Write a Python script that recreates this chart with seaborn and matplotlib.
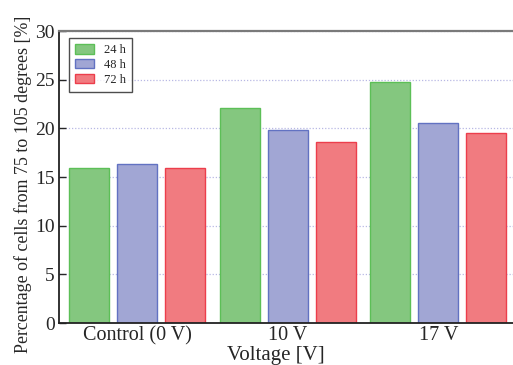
import matplotlib
matplotlib.use("Agg")
import matplotlib.pyplot as plt
from matplotlib.patches import Patch
import seaborn as sns
import pandas as pd

# values
voltages = ["Control (0 V)", "10 V", "17 V"]
durations = ["24 h", "48 h", "72 h"]
pct_24h = [15.9, 22.1, 24.8]
pct_48h = [16.3, 19.8, 20.5]
pct_72h = [15.9, 18.6, 19.5]

fills = ["#84c77f", "#a1a6d4", "#f17b80"]
edges = ["#5cbf57", "#6272c2", "#ec3e4c"]

df = pd.DataFrame({
    "voltage": voltages * 3,
    "duration": [d for d in durations for _ in voltages],
    "pct": pct_24h + pct_48h + pct_72h,
})

sns.set_style("white")
plt.rcParams["font.family"] = ["Liberation Serif", "DejaVu Serif"]

fig = plt.figure(figsize=(5.13, 3.65), dpi=100)
ax = fig.add_axes([59 / 513, 42 / 365, 457.5 / 513, 292 / 365])

sns.barplot(data=df, x="voltage", y="pct", hue="duration", order=voltages,
            hue_order=durations, palette=fills, width=0.957, gap=0.166,
            saturation=1, legend=False, ax=ax)

for cont, ec in zip(ax.containers, edges):
    for bar in cont:
        bar.set_edgecolor(ec)
        bar.set_linewidth(1.0)

ax.set_ylim(0, 30)
ax.set_xlim(-0.52, 2.52)
ax.set_yticks(range(0, 31, 5))
ax.set_xticks([-0.5, 0.5, 1.5, 2.5], minor=True)
ax.tick_params(axis="x", which="major", length=0, labelsize=14.5, pad=2)
ax.tick_params(axis="x", which="minor", direction="in", length=5, width=1, color="#333333")
ax.tick_params(axis="y", direction="in", length=5, width=1, labelsize=14, pad=3, left=True)

ax.yaxis.grid(True, linestyle=(0, (1, 1.5)), color="#b8b8e4", linewidth=0.9)
ax.set_axisbelow(True)

for s in ["left", "bottom"]:
    ax.spines[s].set_color("#222222")
    ax.spines[s].set_linewidth(1.3)
ax.spines["top"].set_color("#7a7a7a")
ax.spines["top"].set_linewidth(1.6)
ax.spines["right"].set_visible(False)

ax.set_ylabel("Percentage of cells from 75 to 105 degrees [%]", fontsize=12.9)
ax.yaxis.set_label_coords(-0.058, 0.476)
ax.set_xlabel("Voltage [V]", fontsize=15)
ax.xaxis.set_label_coords(0.474, -0.078)

handles = [Patch(facecolor=f, edgecolor=e, linewidth=1.0) for f, e in zip(fills, edges)]
leg = ax.legend(handles, durations, loc="upper left",
                bbox_to_anchor=(10 / 457.5, 1 - 7 / 292), borderaxespad=0,
                fontsize=9, frameon=True, fancybox=False, handlelength=1.5,
                handleheight=0.8, labelspacing=0.2, borderpad=0.5, handletextpad=0.8)
leg.get_frame().set_edgecolor("#222222")
leg.get_frame().set_linewidth(1.0)

fig.savefig("out.png", dpi=100)
